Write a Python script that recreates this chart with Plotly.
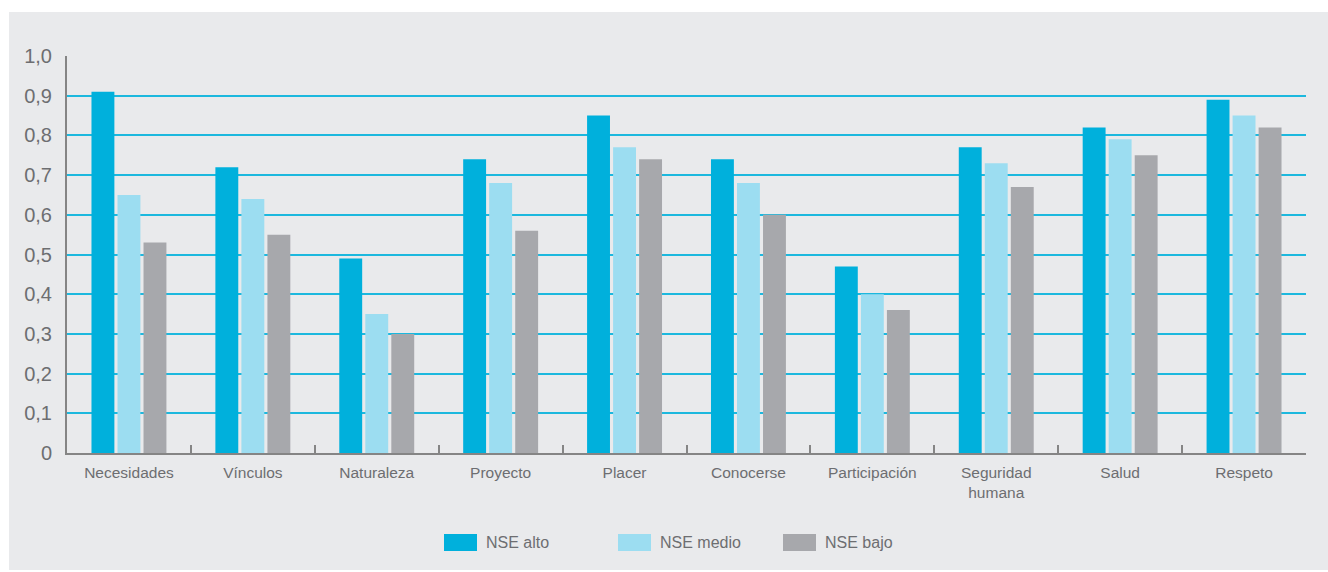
import plotly.graph_objects as go

# Categories and values per socioeconomic level
categories = ["Necesidades", "Vínculos", "Naturaleza", "Proyecto", "Placer",
              "Conocerse", "Participación", "Seguridad<br>humana", "Salud", "Respeto"]
nse_alto = [0.91, 0.72, 0.49, 0.74, 0.85, 0.74, 0.47, 0.77, 0.82, 0.89]
nse_medio = [0.65, 0.64, 0.35, 0.68, 0.77, 0.68, 0.40, 0.73, 0.79, 0.85]
nse_bajo = [0.53, 0.55, 0.30, 0.56, 0.74, 0.60, 0.36, 0.67, 0.75, 0.82]
series_names = ["NSE alto", "NSE medio", "NSE bajo"]
series_values = [nse_alto, nse_medio, nse_bajo]
series_colors = ["#00B0DC", "#9CDDF1", "#A7A8AC"]

y_tickvals = [0, 0.1, 0.2, 0.3, 0.4, 0.5, 0.6, 0.7, 0.8, 0.9, 1.0]
y_ticktext = ["0", "0,1", "0,2", "0,3", "0,4", "0,5", "0,6", "0,7", "0,8", "0,9", "1,0"]

W, H = 1328, 572
ML, MR, MT, MB = 67, 22, 56, 119
PW, PH = W - ML - MR, H - MT - MB


def px_x(px):
    return (px - ML) / PW


def px_y(py):
    return (H - MB - py) / PH


TEXT = "#6D6E71"
FONT = "Liberation Sans, Arial, sans-serif"

fig = go.Figure()
for name, vals, col in zip(series_names, series_values, series_colors):
    fig.add_trace(go.Bar(x=categories, y=vals, name=name, marker_color=col,
                         marker_line_width=0, showlegend=False))

shapes = [
    # light grey panel behind the chart
    dict(type="rect", xref="paper", yref="paper", layer="below",
         x0=px_x(9), x1=px_x(1340), y0=px_y(570), y1=px_y(12),
         fillcolor="#E9EAEC", line_width=0),
]
annotations = []

# custom legend with wide swatches
legend_x = [444, 618, 783]
for name, col, lx in zip(series_names, series_colors, legend_x):
    shapes.append(dict(type="rect", xref="paper", yref="paper",
                       x0=px_x(lx), x1=px_x(lx + 33), y0=px_y(551), y1=px_y(534),
                       fillcolor=col, line_width=0))
    annotations.append(dict(xref="paper", yref="paper", x=px_x(lx + 40), y=px_y(542.5),
                            text=name, showarrow=False, xanchor="left", yanchor="middle",
                            font=dict(family=FONT, size=16, color=TEXT)))

fig.update_layout(
    width=W, height=H,
    margin=dict(l=ML, r=MR, t=MT, b=MB, pad=0),
    paper_bgcolor="white",
    plot_bgcolor="rgba(0,0,0,0)",
    barmode="group",
    bargap=0.37,
    bargroupgap=0.12,
    shapes=shapes,
    annotations=annotations,
    font=dict(family=FONT, color=TEXT),
    xaxis=dict(
        showgrid=False, showline=True, linecolor="#858585", linewidth=2,
        ticks="inside", tickson="boundaries", ticklen=8, tickwidth=1.5, tickcolor="#858585",
        tickfont=dict(family=FONT, size=15.5, color=TEXT),
        ticklabelstandoff=4,
        zeroline=False,
    ),
    yaxis=dict(
        range=[0, 1.0], tickvals=y_tickvals, ticktext=y_ticktext,
        showgrid=True, gridcolor="#1CB8DE", gridwidth=1.5,
        showline=True, linecolor="#858585", linewidth=2,
        ticks="", ticklabelstandoff=9,
        tickfont=dict(family=FONT, size=20, color=TEXT),
        zeroline=False,
    ),
)

fig.write_html("out.html")
